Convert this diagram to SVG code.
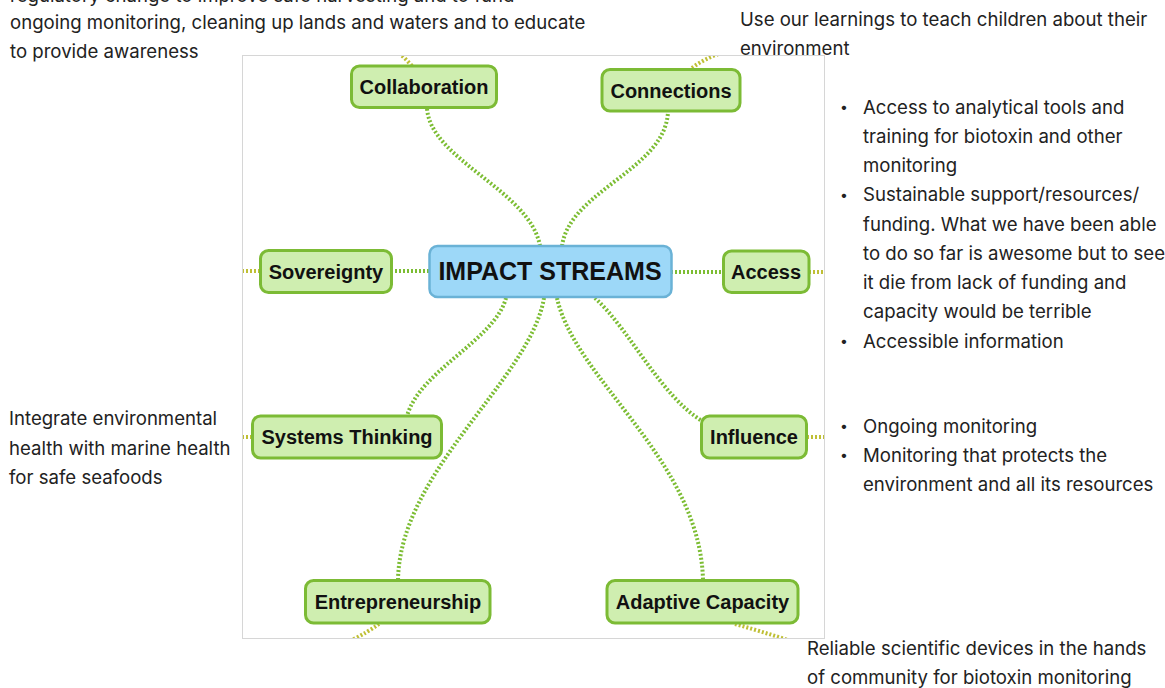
<svg xmlns="http://www.w3.org/2000/svg" width="1165" height="688" viewBox="0 0 1165 688">
  <style>
    .note { font-family: Inter, "Noto Sans", sans-serif; font-size: 18.6px; fill: #222; }
    .note .dot { font-size: 14px; }
    .topic rect { fill: #cfeeb0; stroke: #7cbb35; stroke-width: 3; }
    .topic text { font-family: "Liberation Sans", Arial, sans-serif; font-weight: bold; font-size: 20px; fill: #111; text-anchor: middle; }
    .central rect { fill: #9dd8f8; stroke: #6ab2d6; stroke-width: 2.5; }
    .central text { font-family: "Liberation Sans", Arial, sans-serif; font-weight: bold; font-size: 25px; fill: #111; text-anchor: middle; }
    .branch { fill: none; stroke: #7cbd33; stroke-width: 4; stroke-dasharray: 2 2; }
    .stub { fill: none; stroke: #bfbf35; stroke-width: 4; stroke-dasharray: 2 2; }
  </style>

  <rect width="1165" height="688" fill="#ffffff"/>

  <!-- mind map canvas -->
  <rect x="242.5" y="55.5" width="582" height="583" fill="#ffffff" stroke="#d6d6d6" stroke-width="1"/>

  <!-- connectors -->
  <g id="connectors">
    <clipPath id="canvas"><rect x="243" y="56" width="581" height="582"/></clipPath>
    <g clip-path="url(#canvas)">
      <path class="branch" d="M 540 246 C 530 190, 430 160, 427 108"/>
      <path class="branch" d="M 562 246 C 570 190, 665 170, 668 112"/>
      <path class="branch" d="M 429 271 L 391 271"/>
      <path class="branch" d="M 671 272 L 723 272"/>
      <path class="branch" d="M 506 298 C 495 340, 420 370, 407 416"/>
      <path class="branch" d="M 595 298 C 630 330, 660 395, 702 421"/>
      <path class="branch" d="M 544 298 C 530 380, 400 470, 398 580"/>
      <path class="branch" d="M 557 298 C 575 380, 700 460, 703 580"/>

      <path class="stub" d="M 412 66 Q 405 58, 398 52"/>
      <path class="stub" d="M 692 68 Q 705 58, 722 53"/>
      <path class="stub" d="M 260 271 L 240 271"/>
      <path class="stub" d="M 809 272 L 826 272"/>
      <path class="stub" d="M 252 437 L 240 437"/>
      <path class="stub" d="M 807 437 L 826 437"/>
      <path class="stub" d="M 379 624 Q 368 632, 352 640"/>
      <path class="stub" d="M 735 624 Q 760 631, 788 640"/>
    </g>
  </g>

  <!-- nodes -->
  <g id="central" class="central">
    <rect x="429.5" y="246" width="242" height="51" rx="8"/>
    <text x="550" y="280">IMPACT STREAMS</text>
  </g>
  <g id="collaboration" class="topic">
    <rect x="351.5" y="66" width="145" height="41.5" rx="8"/>
    <text x="424" y="94">Collaboration</text>
  </g>
  <g id="connections" class="topic">
    <rect x="602" y="69.5" width="138" height="41.5" rx="8"/>
    <text x="671" y="97.5">Connections</text>
  </g>
  <g id="sovereignty" class="topic">
    <rect x="260.5" y="250.5" width="131" height="42" rx="8"/>
    <text x="326" y="278.5">Sovereignty</text>
  </g>
  <g id="access" class="topic">
    <rect x="723.5" y="251" width="85.5" height="41.5" rx="8"/>
    <text x="766" y="279">Access</text>
  </g>
  <g id="systems-thinking" class="topic">
    <rect x="252.5" y="416" width="189" height="42" rx="8"/>
    <text x="347" y="444">Systems Thinking</text>
  </g>
  <g id="influence" class="topic">
    <rect x="701.5" y="416" width="105" height="42" rx="8"/>
    <text x="754" y="444">Influence</text>
  </g>
  <g id="entrepreneurship" class="topic">
    <rect x="305.5" y="580.5" width="184.5" height="42.5" rx="8"/>
    <text x="398" y="608.5">Entrepreneurship</text>
  </g>
  <g id="adaptive-capacity" class="topic">
    <rect x="607" y="580.5" width="191" height="42.5" rx="8"/>
    <text x="702.5" y="608.5">Adaptive Capacity</text>
  </g>

  <!-- notes -->
  <g id="note-collaboration" class="note">
    <text x="10" y="2">regulatory change to improve safe harvesting and to fund</text>
    <text x="10" y="28.5">ongoing monitoring, cleaning up lands and waters and to educate</text>
    <text x="10" y="58">to provide awareness</text>
  </g>
  <g id="note-connections" class="note">
    <text x="740" y="26">Use our learnings to teach children about their</text>
    <text x="740" y="55">environment</text>
  </g>
  <g id="note-access" class="note">
    <text class="dot" x="840" y="112">•</text>
    <text x="863" y="113.5">Access to analytical tools and</text>
    <text x="863" y="142.75">training for biotoxin and other</text>
    <text x="863" y="172">monitoring</text>
    <text class="dot" x="840" y="199.75">•</text>
    <text x="863" y="201.25">Sustainable support/resources/</text>
    <text x="863" y="230.5">funding. What we have been able</text>
    <text x="863" y="259.75">to do so far is awesome but to see</text>
    <text x="863" y="289">it die from lack of funding and</text>
    <text x="863" y="318.25">capacity would be terrible</text>
    <text class="dot" x="840" y="346">•</text>
    <text x="863" y="347.5">Accessible information</text>
  </g>
  <g id="note-influence" class="note">
    <text class="dot" x="840" y="431">•</text>
    <text x="863" y="432.5">Ongoing monitoring</text>
    <text class="dot" x="840" y="460.25">•</text>
    <text x="863" y="461.75">Monitoring that protects the</text>
    <text x="863" y="491">environment and all its resources</text>
  </g>
  <g id="note-systems" class="note">
    <text x="9" y="425">Integrate environmental</text>
    <text x="9" y="454.5">health with marine health</text>
    <text x="9" y="484">for safe seafoods</text>
  </g>
  <g id="note-adaptive" class="note">
    <text x="807" y="654.5">Reliable scientific devices in the hands</text>
    <text x="807" y="683.5">of community for biotoxin monitoring</text>
  </g>
</svg>
